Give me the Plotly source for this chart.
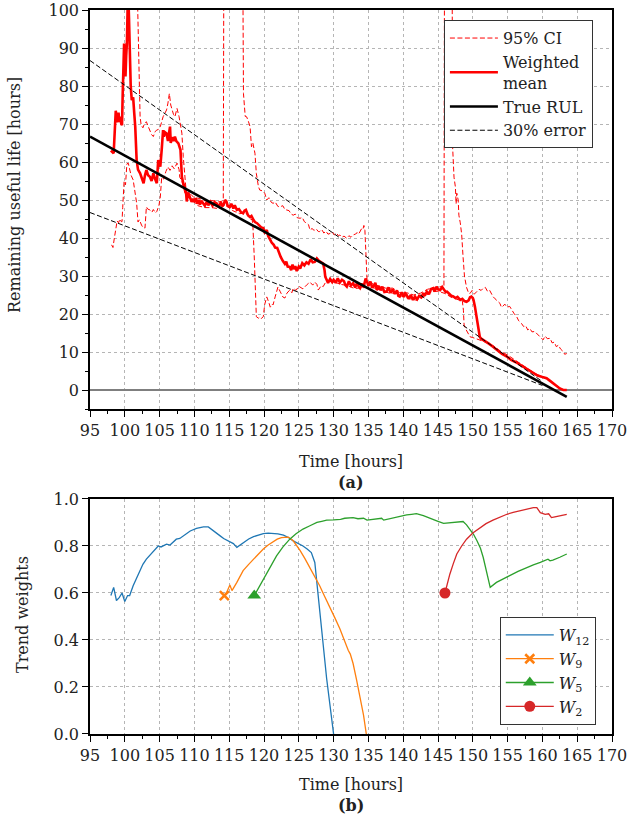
import plotly.graph_objects as go

# ---------------- Top panel data ----------------
mean_t = [98.0, 98.2, 98.4, 98.5, 98.6, 98.7, 98.8, 98.9, 99.0, 99.1, 99.2, 99.3, 99.5, 99.6, 99.7, 99.8, 99.9,
          100.0, 100.1, 100.2, 100.3, 100.4, 100.5, 100.6, 100.7, 100.85, 101.0, 101.2, 101.35, 101.5, 101.7,
          101.9, 102.2, 102.45, 102.7, 102.9, 103.1, 103.35, 103.6, 103.85, 104.1, 104.35, 104.6, 104.8, 105.0,
          105.1, 105.3, 105.5, 105.6, 105.8, 106.0, 106.2, 106.3, 106.5, 106.6, 106.8, 107.0, 107.2, 107.4,
          107.7, 108.0, 108.2, 108.4, 108.6, 108.8, 108.9, 109.1, 109.3, 109.4, 109.6, 109.8, 110.0, 110.2,
          110.4, 110.6, 110.8, 111.0, 111.3, 111.5, 111.8, 112.0, 112.3, 112.6, 112.9, 113.2, 113.5, 113.8,
          114.0, 114.2, 114.4, 114.6, 114.8, 115.1, 115.3, 115.6, 115.8, 116.1, 116.4, 116.7, 117.0, 117.2,
          117.4, 117.7, 118.0, 118.2, 118.5, 118.7, 119.0, 119.3, 119.6, 119.9, 120.1, 120.4, 120.6, 120.9,
          121.1, 121.4, 121.6, 121.9, 122.1, 122.4, 122.7, 123.0, 123.2, 123.4, 123.7, 123.9, 124.1, 124.3,
          124.5, 124.7, 125.0, 125.2, 125.5, 125.8, 126.1, 126.4, 126.7, 127.0, 127.3, 127.6, 127.9, 128.2,
          128.5, 128.7, 128.8, 129.0, 129.2, 129.5, 129.8, 130.0, 130.3, 130.6, 130.9, 131.2, 131.5, 131.7,
          131.9, 132.2, 132.5, 132.8, 133.1, 133.4, 133.6, 133.8, 134.1, 134.3, 134.6, 134.8, 135.0, 135.3,
          135.5, 135.7, 136.0, 136.2, 136.5, 136.7, 137.0, 137.3, 137.6, 137.9, 138.2, 138.5, 138.8, 139.1,
          139.3, 139.5, 139.8, 140.1, 140.3, 140.5, 140.8, 141.1, 141.4, 141.7, 142.0, 142.3, 142.6, 142.9,
          143.1, 143.4, 143.7, 144.0, 144.3, 144.5, 144.8, 145.0, 145.3, 145.6, 145.9, 146.1, 146.3, 146.6,
          146.9, 147.2, 147.5, 147.8, 148.2, 148.5, 148.8, 149.1, 149.4, 149.6, 149.8, 150.0, 150.1, 150.3,
          150.6, 150.8, 151.0, 151.2, 151.5, 151.9, 152.3, 152.9, 153.5, 154.2, 154.9, 155.5, 156.2, 156.8,
          157.5, 158.1, 158.7, 159.3, 160.0, 160.6, 161.1, 161.6, 162.0, 162.5, 163.0, 163.5]
mean_v = [63.0, 62.5, 62.3, 66, 71, 73.5, 72, 70.5, 71, 73, 70.5, 71.9, 70, 69.7, 78, 86.8, 91.2,
          86, 82.5, 88, 91.2, 100, 104, 98, 86.8, 80, 76.3, 77, 73, 69.3, 60.5,
          58, 57, 55.5, 54.4, 56.5, 57.9, 56.5, 56.1, 55, 57, 55.5, 54.4, 60.5, 59,
          58.8, 63.2, 68.4, 66.7, 67.8, 67.5, 65.5, 67, 69.3, 65, 66.5, 65.5, 66.7, 65.5,
          64.9, 63.2, 56.1, 54.4, 53.5, 52, 49.6, 52, 51, 50.9, 49.5, 50.3, 49.5, 50.5,
          49, 50, 48.8, 49.8, 49.1, 48.5, 49.6, 48.6, 49.5, 48.5, 49.4, 49.1, 48.2, 49.4,
          48.5, 48.7, 50, 49.6, 48.4, 48.2, 49, 47.8, 48.6, 47.4, 47.6, 46.8, 46.5, 47.2,
          47.4, 46, 45.5, 45.8, 44.7, 44.2, 43.9, 43.2, 42.8, 42.6, 41.5, 42.1, 40.5, 39.5,
          38.8, 38.2, 37.5, 37.4, 36.3, 35, 34, 33.2, 33.8, 32.5, 32.4, 31.5, 33, 31.8,
          32.6, 31.3, 32.5, 32, 33.4, 32.8, 33.6, 33.2, 34.4, 33.6, 33.7, 34.6, 34, 33.6,
          33.3, 31.5, 29.8, 29, 28.2, 29.2, 28.4, 29, 28.2, 29.4, 28.3, 29, 28.6, 27.6,
          27.2, 28.6, 27.5, 28.1, 27, 28.3, 27.2, 26.8, 28, 27, 29.3, 28.5, 27.4, 28.5,
          27.2, 27.2, 28.2, 26.3, 27.3, 26.3, 27.2, 25.8, 25.9, 27, 25.6, 26.5, 25.3, 26.2,
          24.8, 24.6, 25.7, 24.5, 25.4, 25, 24, 25, 23.7, 24.6, 23.9, 24.8, 24.4, 25.5,
          24.8, 25.9, 25.2, 26.6, 26.8, 25.9, 27.2, 26.5, 26.3, 27.1, 26.2, 25.8, 25.9, 25.2,
          24.8, 24.6, 24.2, 24.5, 23.7, 24, 23.4, 23.2, 23.6, 24.4, 24.6, 24.2, 23.7, 22,
          18.4, 15.5, 14, 13.5, 13.2, 12.8, 12.2, 11.4, 10.5, 9.5, 8.8, 7.9, 7.3, 6.6,
          5.8, 5.0, 4.4, 3.8, 3.4, 3.1, 2.4, 1.8, 1.1, 0.4, 0.0, 0.0]

ci_up_t = [98.0, 101.5, 102.1, 102.2, 102.35, 102.6, 102.85, 103.1, 103.35, 103.6, 103.85, 104.1, 104.35,
           104.6, 104.85, 105.1, 105.3, 105.5, 105.75, 106.0, 106.2, 106.4, 106.6, 106.8, 107.0, 107.2,
           107.5, 107.8, 108.0, 108.2, 108.4, 108.6, 108.8, 109.0, 109.5, 110.0, 110.5, 111.0, 111.5,
           112.0, 112.5, 113.0, 113.5, 114.0, 114.15, 114.25, 116.9, 117.05, 117.3, 117.5, 117.7, 118.0,
           118.2, 118.4, 118.7, 118.9, 119.2, 119.4, 119.8, 120.1, 120.4, 120.7, 121.0, 121.3, 121.6,
           122.0, 122.3, 122.7, 123.0, 123.3, 123.6, 123.9, 124.2, 124.5, 124.8, 125.2, 125.5, 125.8,
           126.1, 126.4, 126.6, 126.9, 127.2, 127.5, 127.8, 128.0, 128.3, 128.6, 128.9, 129.2, 129.5,
           129.8, 130.1, 130.4, 130.7, 130.9, 131.2, 131.5, 131.9, 132.2, 132.5, 132.8, 133.1, 133.4,
           133.6, 133.8, 134.0, 134.2, 134.35, 134.5, 134.6, 134.7, 134.8, 135.5, 136.5, 137.5, 138.5,
           139.5, 140.5, 141.5, 142.5, 143.5, 144.5, 145.5, 145.85, 145.95, 147.0, 147.1, 147.3, 147.5,
           147.6, 147.7, 147.9, 148.0, 148.2, 148.4, 148.6, 148.8, 149.1, 149.4, 149.6, 149.9, 150.2,
           150.6, 150.9, 151.2, 151.5, 151.8, 152.1, 152.4, 152.7, 152.9, 153.2, 153.5, 153.9, 154.1,
           154.3, 154.6, 154.9, 155.3, 155.6, 155.9, 156.3, 156.6, 157.0, 157.3, 157.6, 157.9, 158.2,
           158.5, 158.9, 159.2, 159.5, 159.8, 160.1, 160.4, 160.7, 161.1, 161.4, 161.7, 162.0, 162.3,
           162.6, 163.0, 163.2, 163.5]
ci_up_v = [130, 130, 79.8, 71.9, 69.7, 69, 70.2, 70.6, 69.4, 68.4, 67.2, 66.7, 68,
           68.4, 68.6, 69.3, 71, 71.9, 72.8, 73.7, 75.5, 78, 75, 73.7, 72.5, 71.9,
           74.1, 71.9, 70, 67.6, 61.4, 56.1, 52.6, 51.5, 51.5, 50.5, 50.5, 50.2, 49.8,
           49.8, 49.8, 49.8, 49.5, 49.7, 50, 130, 130, 78, 72, 71.9, 71, 69.3,
           64, 65, 62.3, 57, 53.5, 52.6, 52.4, 51.8, 50, 50.6, 49.5, 49.1, 49.5,
           48.3, 48.2, 48.5, 47.5, 47.4, 47.2, 46.3, 46, 46.3, 45.3, 45.2, 45.4, 44.3,
           43.9, 43.5, 42.1, 42.5, 42, 42.4, 41.7, 41.7, 42.2, 41.3, 41.8, 41, 41.2,
           41.6, 40.8, 41.3, 40.6, 40.8, 40.2, 40.5, 39.9, 40.6, 40.2, 40.8, 41, 41.4,
           41, 41.7, 42.4, 42.2, 43.3, 42, 35.5, 29.5, 29.3, 28, 27.5, 26.8, 26.8,
           25.6, 25.6, 25, 25.5, 26.5, 27, 27.2, 26.8, 130, 130, 64, 56, 53.4,
           49, 51.8, 50, 46, 44, 41, 35, 30, 27, 25.5, 25.4, 26.2, 25.2,
           25.8, 26.5, 26.2, 26.8, 27, 26, 26.3, 25.2, 24.6, 24, 23.4, 22.8, 21.8,
           22, 22.6, 21.8, 22, 21, 20.2, 19.3, 18.2, 17.5, 16.7, 16.9, 15.8, 16.2,
           15.3, 15.4, 14.9, 14.2, 13.8, 13.2, 14.2, 13.5, 13.6, 12.4, 12.6, 11.4, 11.8,
           10.8, 10.1, 9.4, 9.6]

ci_lo_t = [98.1, 98.3, 98.5, 98.7, 98.8, 98.9, 99.1, 99.3, 99.5, 99.6, 99.7, 99.8, 99.9, 100.1, 100.3,
           100.5, 100.7, 100.9, 101.2, 101.5, 101.7, 101.9, 102.1, 102.4, 102.6, 102.9, 103.1, 103.3,
           103.6, 103.9, 104.1, 104.4, 104.6, 104.9, 105.1, 105.3, 105.6, 105.9, 106.2, 106.5, 106.8,
           107.1, 107.5, 107.8, 107.9, 108.2, 108.4, 108.7, 109.5, 110.5, 111.5, 112.5, 113.5, 114.5,
           115.5, 116.5, 117.4, 118.0, 118.3, 118.4, 118.6, 118.75, 118.9, 119.2, 119.4, 119.6, 119.9,
           120.1, 120.4, 120.7, 120.9, 121.2, 121.3, 121.6, 122.0, 122.3, 122.7, 123.0, 123.3, 123.7,
           124.0, 124.2, 124.6, 125.0, 125.2, 125.6, 126.1, 126.6, 127.0, 127.3, 127.6, 127.8, 128.2,
           128.5, 128.8, 129.0, 130.0, 131.0, 132.0, 133.0, 134.0, 135.0, 136.0, 137.0, 138.0, 139.0,
           140.0, 141.0, 142.0, 143.0, 144.0, 145.0, 146.0, 147.0, 148.0, 148.5, 148.65, 148.75, 149.0,
           149.3, 149.6, 150.0, 150.5, 151.0, 152.0, 153.0, 154.0, 155.0, 156.0, 157.0, 158.0, 159.0,
           160.0, 161.0, 162.0, 162.8, 163.5]
ci_lo_v = [38.2, 37.5, 40, 42.5, 43.4, 44.5, 44, 45, 44.3, 44.3, 48, 52, 55, 54, 59.5,
           59.7, 57.9, 56.5, 55.3, 50.8, 49.2, 44.2, 44.8, 43.4, 42.8, 42.6, 48.2, 47.6,
           47.4, 46.8, 47.5, 46.6, 47, 48.5, 50.8, 56, 55.5, 57.5, 58.7, 57.8, 59,
           58.2, 59.7, 58, 56, 55, 53.4, 51.3, 50.2, 48.5, 48, 48, 47.7, 48.6,
           47.2, 46.4, 46.6, 45, 44.8, 43.4, 35, 25.5, 19.3, 18.9, 19.2, 18.8, 19.3,
           22.5, 24.5, 23, 21.8, 22.6, 22.4, 24.5, 27.1, 26, 24.5, 24.2, 25.5, 26.3,
           25.6, 26.8, 26.2, 27.3, 27.1, 26.6, 27.6, 28.4, 27.6, 28.4, 27.8, 26.3, 27.4,
           27.2, 28.2, 28.6, 28.5, 27.8, 27.5, 26.7, 26.9, 27.0, 26.8, 26.2, 25.5, 25.4,
           24.5, 24, 23.6, 24.6, 25.8, 26, 25.4, 24.3, 23.6, 23.4, 21, 17.1, 16,
           14.8, 14, 13.8, 13.5, 13.2, 12.5, 11.6, 10.2, 9.2, 7.9, 6.7, 5.5, 4.3,
           3.4, 2.5, 1.2, 0.2, -0.3]

true_t = [95.0, 163.5]
true_v = [66.7, -1.8]
err_t = [95.0, 160.0]
err_hi_v = [86.7, 2.2]
err_lo_v = [46.7, 1.2]

# ---------------- Bottom panel data ----------------
w12_t = [98.0, 98.4, 98.8, 99.2, 99.6, 100.0, 100.4, 100.7, 101.2, 101.7, 102.2, 102.6, 103.1, 103.6, 104.1,
         104.8, 105.2, 105.6, 106.0, 106.5, 107.0, 107.4, 107.9, 108.4, 108.9, 109.4, 110.3, 111.3, 112.0,
         112.7, 113.7, 114.2, 115.1, 115.6, 116.1, 117.0, 117.8, 118.5, 119.2, 119.9, 120.6, 121.3, 122.0,
         122.8, 123.5, 124.2, 125.0, 125.6, 126.2, 126.8, 127.3, 128.0, 129.0, 130.0]
w12_v = [0.589, 0.624, 0.568, 0.58, 0.60, 0.564, 0.589, 0.589, 0.631, 0.665, 0.70, 0.722, 0.744, 0.76, 0.78,
         0.80, 0.796, 0.803, 0.808, 0.804, 0.82, 0.829, 0.832, 0.843, 0.852, 0.864, 0.875, 0.881, 0.881,
         0.864, 0.843, 0.832, 0.818, 0.81, 0.794, 0.815, 0.83, 0.84, 0.848, 0.853, 0.855, 0.855, 0.852,
         0.846, 0.836, 0.822, 0.81, 0.80, 0.787, 0.772, 0.73, 0.518, 0.236, 0.0]

w9_t = [114.3, 114.6, 115.1, 115.4, 116.1, 117.0, 117.8, 118.5, 119.2, 119.9, 120.6, 121.3, 121.9, 122.5,
        123.0, 123.5, 124.2, 124.7, 125.2, 125.9, 126.6, 127.3, 128.0, 128.7, 129.5, 130.2, 130.9, 131.5,
        132.1, 132.4, 132.8, 133.3, 133.8, 134.3, 134.7]
w9_v = [0.589, 0.60, 0.634, 0.61, 0.645, 0.695, 0.722, 0.744, 0.767, 0.787, 0.804, 0.819, 0.829, 0.836,
        0.838, 0.838, 0.822, 0.803, 0.78, 0.745, 0.709, 0.67, 0.631, 0.586, 0.539, 0.493, 0.448, 0.40,
        0.356, 0.34, 0.30, 0.23, 0.158, 0.08, 0.0]

w5_t = [118.6, 119.4, 120.4, 121.1, 121.8, 122.7, 123.7, 124.6, 125.6, 126.6, 127.6, 128.3, 129.0, 130.0,
        131.0, 131.6, 132.4, 132.8, 133.5, 134.3, 134.8, 135.6, 136.3, 136.9, 137.2, 138.2, 139.1, 139.8,
        140.5, 141.2, 141.9, 142.9, 143.6, 144.3, 145.0, 145.8, 146.5, 147.2, 147.9, 148.6, 149.1, 149.6,
        150.1, 150.6, 151.1, 151.5, 152.0, 152.5, 153.4, 154.3, 155.3, 156.5, 157.7, 158.7, 159.7, 160.8,
        161.1, 161.5, 162.5, 163.5]
w5_v = [0.589, 0.631, 0.688, 0.725, 0.758, 0.795, 0.829, 0.852, 0.872, 0.886, 0.90, 0.905, 0.91, 0.911,
        0.913, 0.918, 0.921, 0.921, 0.916, 0.918, 0.91, 0.912, 0.915, 0.918, 0.91, 0.917, 0.924, 0.928,
        0.932, 0.935, 0.938, 0.929, 0.922, 0.914, 0.905, 0.896, 0.898, 0.90, 0.902, 0.904, 0.89, 0.872,
        0.85, 0.822, 0.79, 0.751, 0.69, 0.624, 0.645, 0.66, 0.674, 0.692, 0.709, 0.72, 0.73, 0.744,
        0.737, 0.74, 0.752, 0.766]

w2_t = [146.0, 146.3, 146.7, 147.2, 147.7, 148.4, 149.1, 150.0, 151.0, 151.9, 152.9, 153.9, 154.9, 155.8,
        156.8, 157.7, 158.7, 159.2, 159.7, 160.1, 160.4, 160.9, 161.3, 161.8, 162.2, 162.8, 163.5]
w2_v = [0.60, 0.64, 0.68, 0.725, 0.766, 0.80, 0.829, 0.855, 0.878, 0.895, 0.91, 0.923, 0.935, 0.943,
        0.951, 0.957, 0.963, 0.963, 0.942, 0.938, 0.935, 0.937, 0.921, 0.924, 0.926, 0.93, 0.935]

x_ticks = list(range(95, 171, 5))
y_ticks_top = list(range(0, 101, 10))
y_ticks_bot = [0.0, 0.2, 0.4, 0.6, 0.8, 1.0]

FONT = "DejaVu Serif"
FS = 16
RED = "#ff0000"
BLUE, ORANGE, GREEN, TRED = "#1f77b4", "#ff7f0e", "#2ca02c", "#d62728"
DASH = "5px,2.5px"

fig = go.Figure()

# ---- top panel traces ----
fig.add_trace(go.Scatter(x=ci_up_t, y=ci_up_v, mode="lines", name="95% CI", legendgroup="ci",
                         line=dict(color=RED, width=1, dash=DASH), xaxis="x", yaxis="y"))
fig.add_trace(go.Scatter(x=ci_lo_t, y=ci_lo_v, mode="lines", name="95% CI", legendgroup="ci", showlegend=False,
                         line=dict(color=RED, width=1, dash=DASH), xaxis="x", yaxis="y"))
fig.add_trace(go.Scatter(x=mean_t, y=mean_v, mode="lines", name="Weighted<br>mean",
                         line=dict(color=RED, width=2.6), xaxis="x", yaxis="y"))
fig.add_trace(go.Scatter(x=true_t, y=true_v, mode="lines", name="True RUL",
                         line=dict(color="black", width=2.6), xaxis="x", yaxis="y"))
fig.add_trace(go.Scatter(x=err_t, y=err_hi_v, mode="lines", name="30% error", legendgroup="err",
                         line=dict(color="black", width=1, dash=DASH), xaxis="x", yaxis="y"))
fig.add_trace(go.Scatter(x=err_t, y=err_lo_v, mode="lines", name="30% error", legendgroup="err", showlegend=False,
                         line=dict(color="black", width=1, dash=DASH), xaxis="x", yaxis="y"))

# ---- bottom panel traces ----
def weight_trace(t, v, color, name, symbol, size, mlw=0):
    fig.add_trace(go.Scatter(x=t, y=v, mode="lines", legendgroup=name, showlegend=False,
                             line=dict(color=color, width=1.3), xaxis="x2", yaxis="y2", legend="legend2"))
    if symbol is None:
        fig.add_trace(go.Scatter(x=t[:1], y=v[:1], mode="lines", name=name, legendgroup=name,
                                 line=dict(color=color, width=1.3), xaxis="x2", yaxis="y2", legend="legend2"))
    else:
        fig.add_trace(go.Scatter(x=t[:1], y=v[:1], mode="lines+markers", name=name, legendgroup=name,
                                 line=dict(color=color, width=1.3),
                                 marker=dict(symbol=symbol, size=size, color=color,
                                             line=dict(width=mlw, color=color)),
                                 xaxis="x2", yaxis="y2", legend="legend2"))

weight_trace(w12_t, w12_v, BLUE, "<i>W</i><sub>12</sub>", None, 0)
weight_trace(w9_t, w9_v, ORANGE, "<i>W</i><sub>9</sub>", "x-thin", 9, 2.6)
weight_trace(w5_t, w5_v, GREEN, "<i>W</i><sub>5</sub>", "triangle-up", 12)
weight_trace(w2_t, w2_v, TRED, "<i>W</i><sub>2</sub>", "circle", 11)

axis_common = dict(showline=True, linecolor="black", linewidth=1.5, mirror=True,
                   ticks="outside", ticklen=6, tickwidth=1.3, tickcolor="black",
                   showgrid=True, gridcolor="#b5b5b5", griddash="dot", gridwidth=1,
                   automargin=False, tickfont=dict(family=FONT, size=FS, color="#222"))

xminor = dict(dtick=2.5, ticks="outside", ticklen=3.5, tickwidth=1, tickcolor="black", showgrid=False)

fig.update_layout(
    width=629, height=821,
    margin=dict(l=90, r=17, t=10, b=87, autoexpand=False),
    paper_bgcolor="white", plot_bgcolor="white",
    font=dict(family=FONT, size=FS, color="#222"),
    xaxis=dict(domain=[0, 1], range=[95, 170], tickvals=x_ticks, anchor="y", minor=xminor,
               zeroline=False, **axis_common),
    yaxis=dict(domain=[0.4489, 1.0], range=[-5, 100], tickvals=y_ticks_top, anchor="x",
               minor=dict(dtick=5, ticks="outside", ticklen=3.5, tickwidth=1, tickcolor="black", showgrid=False),
               zeroline=True, zerolinecolor="#7f7f7f", zerolinewidth=2.2, **axis_common),
    xaxis2=dict(domain=[0, 1], range=[95, 170], tickvals=x_ticks, anchor="y2", minor=xminor,
                zeroline=False, **axis_common),
    yaxis2=dict(domain=[0, 0.3246], range=[0, 1.0], tickvals=y_ticks_bot, tickformat=".1f", anchor="x2",
                zeroline=False, **axis_common),
    legend=dict(x=0.678, y=0.986, xanchor="left", yanchor="top", bgcolor="white",
                bordercolor="#333", borderwidth=1, font=dict(family=FONT, size=FS, color="#222"),
                tracegroupgap=0, itemwidth=48),
    legend2=dict(x=0.785, y=0.0124, xanchor="left", yanchor="bottom", bgcolor="white",
                 bordercolor="#333", borderwidth=1, font=dict(family=FONT, size=FS, color="#222"),
                 tracegroupgap=0, itemwidth=48),
    annotations=[
        dict(text="Time [hours]", x=0.5, y=0.3757, xref="paper", yref="paper", showarrow=False,
             xanchor="center", yanchor="middle", font=dict(family=FONT, size=FS)),
        dict(text="<b>(a)</b>", x=0.5, y=0.3480, xref="paper", yref="paper", showarrow=False,
             xanchor="center", yanchor="middle", font=dict(family=FONT, size=FS)),
        dict(text="Time [hours]", x=0.5, y=-0.0704, xref="paper", yref="paper", showarrow=False,
             xanchor="center", yanchor="middle", font=dict(family=FONT, size=FS)),
        dict(text="<b>(b)</b>", x=0.5, y=-0.0981, xref="paper", yref="paper", showarrow=False,
             xanchor="center", yanchor="middle", font=dict(family=FONT, size=FS)),
        dict(text="Remaining useful life [hours]", x=-0.1437, y=0.7445, xref="paper", yref="paper",
             showarrow=False, textangle=-90, xanchor="center", yanchor="middle", font=dict(family=FONT, size=FS)),
        dict(text="Trend weights", x=-0.1303, y=0.1657, xref="paper", yref="paper",
             showarrow=False, textangle=-90, xanchor="center", yanchor="middle", font=dict(family=FONT, size=FS)),
    ],
)

fig.write_html("out.html", config={"displayModeBar": False},
               post_script="document.body.style.margin='0';")
